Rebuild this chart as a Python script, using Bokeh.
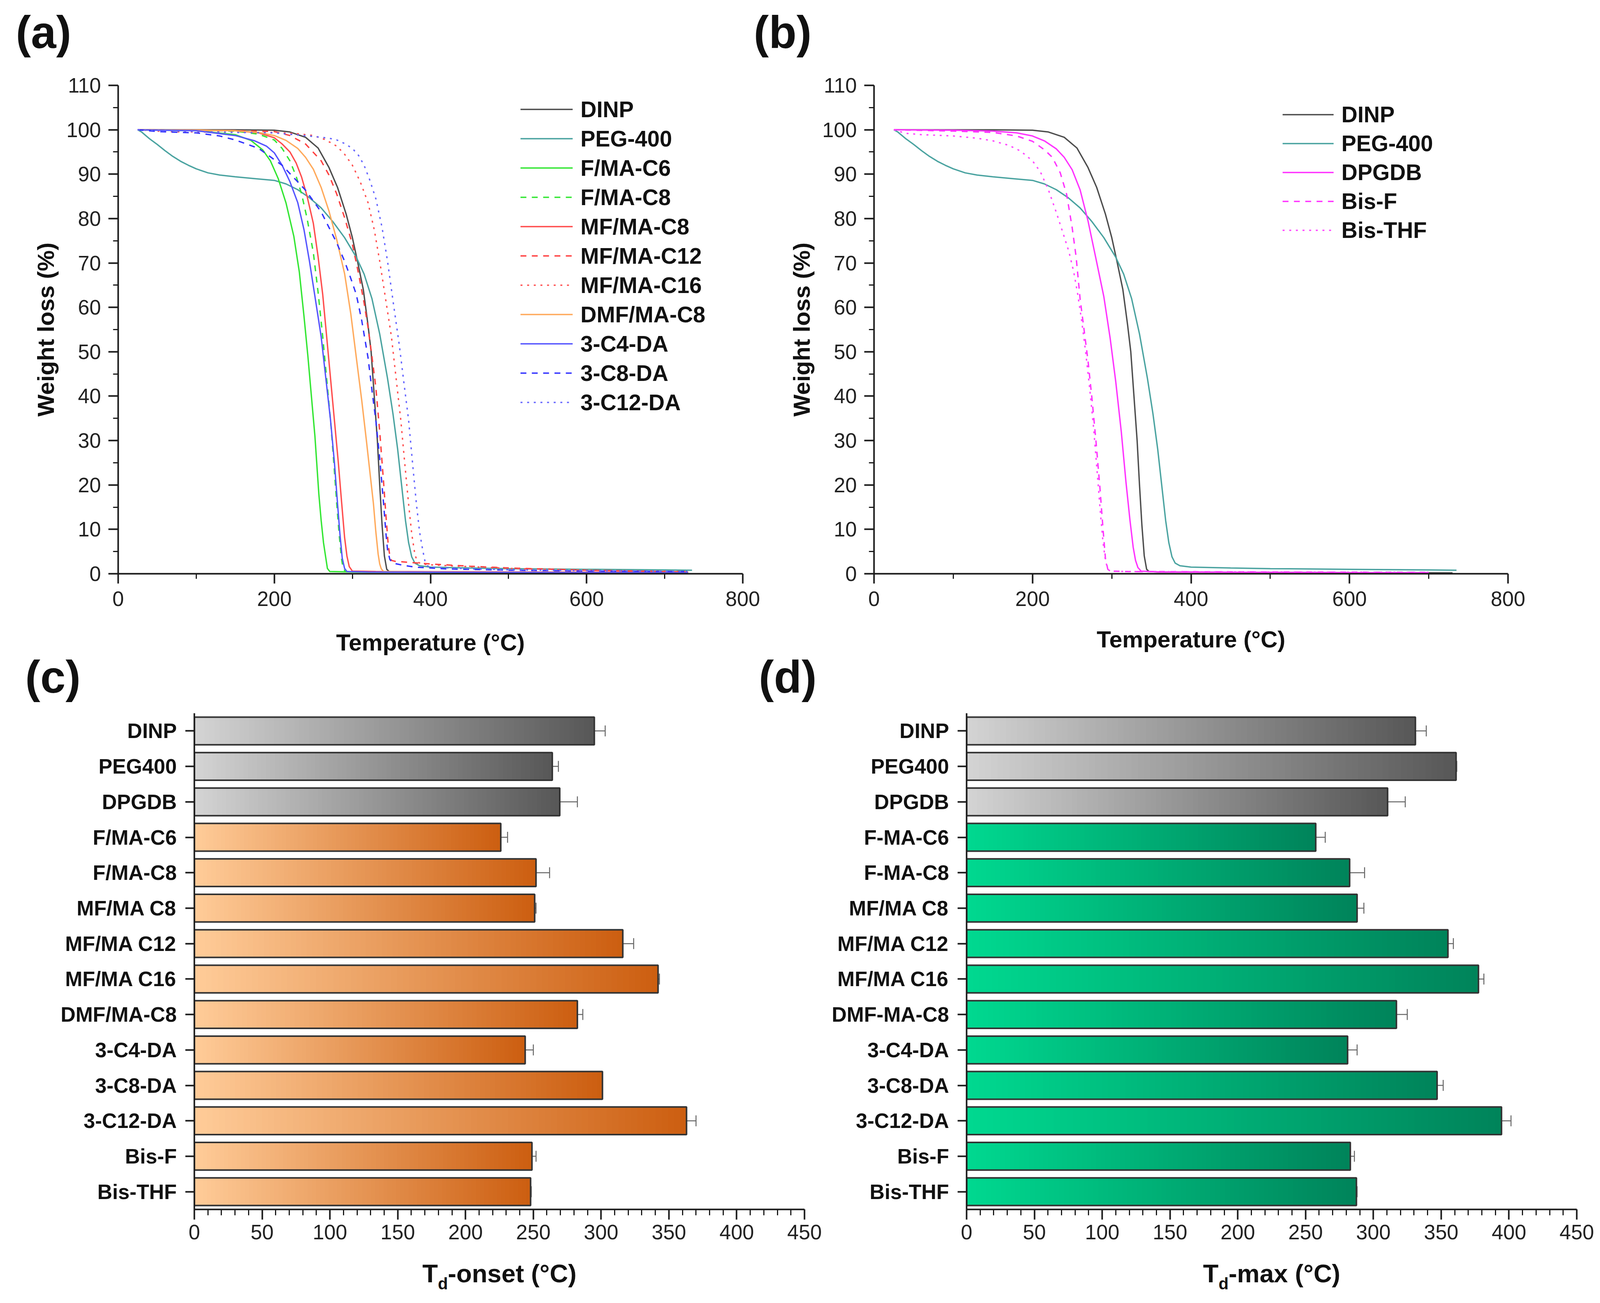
import numpy as np
from bokeh.plotting import figure
from bokeh.models import (Range1d, FactorRange, FixedTicker, Legend, LegendItem,
                          Label, Whisker, TeeHead, ColumnDataSource)
from bokeh.layouts import column, row
from bokeh.embed import file_html
from bokeh.resources import INLINE

FONT = "Liberation Sans"
W = 4086

# ---------------- TGA data (temperature in degC, weight %) ----------------
dinp_T = [25, 100, 150, 200, 220, 240, 256, 270, 281, 292, 300, 307, 314, 320, 324, 328, 332, 335, 338, 341, 344, 347, 360, 500, 730]
dinp_W = [100, 100, 100, 99.9, 99.5, 98.3, 95.9, 91.5, 87, 81, 75.7, 70, 64, 56, 50, 40, 30, 20, 11, 4, 1, 0.5, 0.4, 0.3, 0.2]

peg_T = [25, 30, 40, 50, 60, 70, 80, 90, 100, 115, 130, 150, 175, 200, 215, 230, 245, 260, 275, 290, 305, 315, 325, 335, 345, 352, 358, 363, 368, 372, 376, 380, 386, 400, 450, 500, 600, 700, 735]
peg_W = [100, 99.5, 98, 96.7, 95.3, 94, 92.9, 92, 91.2, 90.3, 89.8, 89.4, 89, 88.6, 87.8, 86.5, 84.7, 82.4, 79.3, 75.7, 71.3, 67.5, 62, 54, 44, 36, 28, 20, 12, 7, 3.8, 2.4, 1.8, 1.5, 1.3, 1.15, 1.0, 0.85, 0.8]

fmac6_T = [25, 100, 150, 170, 185, 195, 205, 215, 225, 232, 238, 243, 248, 252, 257, 260, 263, 266, 268, 271, 300, 500, 730]
fmac6_W = [100, 99.8, 98.9, 97.6, 95.5, 93, 89, 83.5, 76, 68, 58, 49, 39, 31, 18, 12, 7, 3.5, 1.2, 0.5, 0.4, 0.3, 0.2]

fmac8_T = [25, 100, 150, 180, 200, 210, 220, 228, 235, 242, 250, 256, 262, 267, 272, 276, 280, 283, 286, 288, 291, 320, 500, 730]
fmac8_W = [100, 99.9, 99.7, 99, 97.7, 95.8, 93, 89.5, 85.5, 80, 72.3, 63.5, 53.4, 44, 34.6, 25.5, 15.7, 9, 3.5, 1.3, 0.5, 0.4, 0.3, 0.2]

mfc8_T = [25, 100, 150, 180, 200, 210, 220, 228, 235, 242, 250, 256, 262, 267, 272, 277, 282, 286, 290, 293, 296, 300, 330, 500, 730]
mfc8_W = [100, 99.9, 99.8, 99.3, 98.2, 96.8, 95, 92.5, 89.3, 85, 78.9, 71.5, 62.9, 53.5, 44, 34.5, 25, 16.5, 8.2, 4, 1.6, 0.6, 0.5, 0.4, 0.3]

mfc12_T = [25, 100, 150, 200, 220, 240, 260, 270, 280, 290, 300, 308, 315, 320, 325, 330, 335, 340, 343, 346, 348, 350, 355, 370, 400, 450, 500, 600, 730]
mfc12_W = [100, 99.9, 99.8, 99.6, 98.7, 96.8, 93, 89.8, 85.5, 80.2, 74.2, 67.5, 61, 55.5, 49, 42, 32, 20.5, 13, 6.3, 4, 3, 2.8, 2.6, 2.2, 1.7, 1.3, 0.8, 0.4]

mfc16_T = [25, 60, 100, 200, 230, 250, 265, 280, 290, 300, 310, 320, 328, 335, 342, 350, 356, 362, 367, 372, 376, 380, 383, 388, 400, 450, 500, 600, 730]
mfc16_W = [100, 99.6, 99.5, 99.4, 99.1, 98.7, 97.8, 96.3, 94.5, 92, 88.3, 83.6, 77.5, 70.4, 62.5, 53.4, 44, 34.6, 25, 15.7, 9, 4.4, 2.8, 2.2, 2.0, 1.6, 1.2, 0.8, 0.5]

dmfc8_T = [25, 100, 150, 180, 200, 215, 230, 240, 250, 260, 270, 280, 290, 298, 305, 312, 318, 323, 327, 330, 333, 335, 337, 340, 370, 500, 730]
dmfc8_W = [100, 99.9, 99.8, 99.4, 98.7, 97.6, 95.8, 93.8, 91.1, 87, 81.7, 75.2, 67.6, 58.5, 48.7, 39, 29.9, 22, 15.7, 9.5, 4.4, 2.2, 1.1, 0.5, 0.4, 0.3, 0.2]

c4da_T = [25, 100, 150, 175, 190, 200, 210, 220, 230, 238, 245, 252, 260, 266, 272, 277, 281, 284, 287, 290, 293, 320, 500, 730]
c4da_W = [100, 99.8, 98.7, 97.5, 96.3, 94.8, 92, 88.3, 83.6, 77.5, 70.4, 62.5, 53.4, 44, 34.6, 25, 15.7, 9, 3.5, 1.2, 0.5, 0.4, 0.3, 0.2]

c8da_T = [25, 50, 100, 130, 150, 180, 210, 240, 260, 270, 280, 290, 298, 305, 312, 320, 326, 330, 335, 340, 343, 345, 348, 352, 365, 380, 420, 500, 600, 730]
c8da_W = [100, 99.6, 99.3, 98.6, 97.7, 95.8, 92, 86.4, 81.5, 78, 74.5, 70.4, 66.5, 62.9, 57, 48.7, 40, 34.6, 26, 15.7, 9, 5.4, 3.2, 2.4, 1.9, 1.5, 1.1, 0.8, 0.6, 0.5]

c12da_T = [25, 100, 150, 200, 250, 270, 280, 290, 300, 308, 315, 322, 330, 338, 345, 352, 360, 366, 372, 377, 382, 386, 390, 393, 396, 400, 450, 500, 600, 730]
c12da_W = [100, 99.6, 99.4, 99.3, 98.5, 98.1, 97.7, 96.9, 95.8, 94.2, 92, 88.8, 84.5, 78, 70.4, 61.5, 51.6, 43, 34.6, 25, 15.7, 9.5, 5.4, 2.8, 1.8, 1.5, 1.1, 0.9, 0.7, 0.5]

dpgdb_T = [25, 100, 150, 180, 200, 215, 230, 240, 250, 260, 270, 280, 290, 298, 305, 312, 318, 323, 327, 330, 333, 337, 360, 500, 700]
dpgdb_W = [100, 99.9, 99.7, 99.3, 98.6, 97.5, 95.7, 93.8, 91, 86.5, 79.5, 71, 62.4, 53, 43.3, 32, 20.5, 12, 6, 3, 1.4, 0.6, 0.4, 0.3, 0.2]

bisf_T = [25, 50, 100, 150, 180, 200, 215, 225, 235, 243, 250, 255, 260, 265, 270, 275, 280, 285, 289, 292, 295, 298, 320, 500, 700]
bisf_W = [100, 99.9, 99.7, 99.4, 98.6, 97.4, 95.5, 93.8, 90.3, 85.5, 78, 71.4, 62, 55, 48, 39.5, 30, 19.5, 10, 3.5, 1.0, 0.6, 0.5, 0.4, 0.3]

bisthf_T = [25, 40, 60, 100, 130, 150, 170, 185, 200, 210, 220, 230, 238, 246, 252, 257, 262, 267, 272, 277, 282, 286, 289, 292, 295, 298, 320, 500, 700]
bisthf_W = [100, 99.2, 98.9, 98.6, 98.1, 97.5, 96.5, 95.2, 93, 90.5, 86.5, 81.4, 77, 72.5, 68, 63, 57, 50, 42, 33, 22, 13, 7, 3, 1.0, 0.6, 0.5, 0.4, 0.3]

# ---------------- bar data ----------------
cats_c = ["DINP", "PEG400", "DPGDB", "F/MA-C6", "F/MA-C8", "MF/MA C8", "MF/MA C12",
          "MF/MA C16", "DMF/MA-C8", "3-C4-DA", "3-C8-DA", "3-C12-DA", "Bis-F", "Bis-THF"]
onset = [295, 264, 269.5, 226, 252, 251, 316, 342, 282.5, 244, 301, 363, 249, 248]
onset_err = [8, 4.5, 13, 5, 10, 1, 8, 1, 4, 6, 0, 7, 3, 0.5]

cats_d = ["DINP", "PEG400", "DPGDB", "F-MA-C6", "F-MA-C8", "MF/MA C8", "MF/MA C12",
          "MF/MA C16", "DMF-MA-C8", "3-C4-DA", "3-C8-DA", "3-C12-DA", "Bis-F", "Bis-THF"]
tmax = [331, 361, 310.5, 257.5, 282.5, 288, 355, 377.5, 317, 281, 347, 394.5, 283, 287.5]
tmax_err = [8, 0.5, 13, 7, 11, 5, 4, 4, 8, 7, 4.5, 7, 3, 0.5]

AX = "#1a1a1a"
TICK_FS = "53px"

# page layout (pixels): horizontal strips and panel boxes
Y_S1, Y_AB, Y_S2, Y_CD, Y_S3, Y_END = 0, 180, 1600, 1815, 3210, 3319
X_AB = 1980          # boundary between panels (a) and (b)
X_CD = 2115          # boundary between panels (c) and (d)

FRAME_A = (302, 1901, 217, 1482)     # left, right, top, bottom (page px)
FRAME_B = (2237, 3860, 218, 1468)
FRAME_C = (497, 2059, 1825, 3095)
FRAME_D = (2474, 4036, 1823, 3095)


def borders(frame, x0, x1, y0, y1):
    l, r, t, b = frame
    return dict(width=x1 - x0, height=y1 - y0,
                min_border_left=l - x0, min_border_right=x1 - r,
                min_border_top=t - y0, min_border_bottom=y1 - b)


def style_axes(p):
    p.xgrid.visible = False
    p.ygrid.visible = False
    p.outline_line_color = None
    for ax in (p.xaxis, p.yaxis):
        ax.axis_line_width = 4
        ax.axis_line_color = AX
        ax.major_tick_line_width = 4
        ax.major_tick_line_color = AX
        ax.minor_tick_line_width = 3
        ax.minor_tick_line_color = AX
        ax.major_tick_in = 0
        ax.minor_tick_in = 0
        ax.major_label_text_font = FONT
        ax.major_label_text_font_size = TICK_FS
        ax.major_label_text_color = "#222222"
        ax.axis_label_text_font = FONT
        ax.axis_label_text_font_size = "60px"
        ax.axis_label_text_font_style = "bold"
        ax.axis_label_text_color = "#111111"


def tga_panel(box, series, leg_loc, leg_gw, leg_gh, xstand):
    p = figure(output_backend="svg", toolbar_location=None,
               x_range=Range1d(0, 800), y_range=Range1d(0, 110), **box)
    style_axes(p)
    p.xaxis.ticker = FixedTicker(ticks=[0, 200, 400, 600, 800], minor_ticks=[100, 300, 500, 700])
    p.yaxis.ticker = FixedTicker(ticks=list(range(0, 111, 10)), minor_ticks=list(range(5, 110, 10)))
    p.xaxis.major_tick_out = 25
    p.xaxis.minor_tick_out = 13
    p.yaxis.major_tick_out = 25
    p.yaxis.minor_tick_out = 13
    p.xaxis.major_label_standoff = xstand
    p.yaxis.major_label_standoff = 19
    p.yaxis.axis_label = "Weight loss (%)"
    p.yaxis.axis_label_standoff = 16
    items = []
    for name, T, Wt, color, dash in series:
        r = p.line(T, Wt, line_color=color, line_width=3.5, line_dash=dash)
        items.append(LegendItem(label=name, renderers=[r]))
    leg = Legend(items=items, location=leg_loc, glyph_width=leg_gw, glyph_height=leg_gh,
                 label_height=leg_gh, spacing=0, padding=0, margin=0, label_standoff=20,
                 label_text_font=FONT, label_text_font_size="57px",
                 label_text_font_style="bold", label_text_color="#111111",
                 border_line_alpha=0, background_fill_alpha=0)
    p.add_layout(leg)
    return p


DASH = "15 14"
DOT = "5 12"
series_a = [
    ("DINP", dinp_T, dinp_W, "#4d4d4d", "solid"),
    ("PEG-400", peg_T, peg_W, "#4aa3a0", "solid"),
    ("F/MA-C6", fmac6_T, fmac6_W, "#33e633", "solid"),
    ("F/MA-C8", fmac8_T, fmac8_W, "#33e633", DASH),
    ("MF/MA-C8", mfc8_T, mfc8_W, "#ff4d4d", "solid"),
    ("MF/MA-C12", mfc12_T, mfc12_W, "#ff4040", DASH),
    ("MF/MA-C16", mfc16_T, mfc16_W, "#ff5050", DOT),
    ("DMF/MA-C8", dmfc8_T, dmfc8_W, "#ffaa5c", "solid"),
    ("3-C4-DA", c4da_T, c4da_W, "#5555ff", "solid"),
    ("3-C8-DA", c8da_T, c8da_W, "#3333ff", DASH),
    ("3-C12-DA", c12da_T, c12da_W, "#6666ff", DOT),
]
series_b = [
    ("DINP", dinp_T, dinp_W, "#4d4d4d", "solid"),
    ("PEG-400", peg_T, peg_W, "#4aa3a0", "solid"),
    ("DPGDB", dpgdb_T, dpgdb_W, "#ff33ff", "solid"),
    ("Bis-F", bisf_T, bisf_W, "#ff33ff", DASH),
    ("Bis-THF", bisthf_T, bisthf_W, "#ff44ff", DOT),
]

pa = tga_panel(borders(FRAME_A, 0, X_AB, Y_AB, Y_S2), series_a, (1030, 401), 134, 75, 20)
pb = tga_panel(borders(FRAME_B, X_AB, W, Y_AB, Y_S2), series_b, (1046, 842), 131, 74, 20)


def hexrgb(h):
    h = h.lstrip("#")
    return [int(h[i:i + 2], 16) for i in (0, 2, 4)]


def lerp(c1, c2, t):
    a, b = hexrgb(c1), hexrgb(c2)
    return "#%02x%02x%02x" % tuple(int(round(x + (y - x) * t)) for x, y in zip(a, b))


GRAY = ("#d4d4d4", "#575757")


def bar_panel(box, cats, vals, errs, grad):
    p = figure(output_backend="svg", toolbar_location=None,
               y_range=FactorRange(factors=cats[::-1]), x_range=Range1d(0, 450), **box)
    style_axes(p)
    p.xaxis.ticker = FixedTicker(ticks=list(range(0, 451, 50)), minor_ticks=list(range(0, 451, 10)))
    p.xaxis.major_tick_out = 26
    p.xaxis.minor_tick_out = 15
    p.xaxis.major_label_standoff = 13
    p.yaxis.major_tick_out = 23
    p.yaxis.major_label_standoff = 22
    p.yaxis.major_label_text_font_style = "bold"
    p.yaxis.major_label_text_color = "#111111"
    N = 80
    ys, ls, rs, cs = [], [], [], []
    for i, (c, v) in enumerate(zip(cats, vals)):
        c1, c2 = GRAY if i < 3 else grad
        for k in range(N):
            ys.append(c)
            ls.append(v * k / N)
            rs.append(min(v, v * (k + 1.4) / N))
            cs.append(lerp(c1, c2, (k + 0.5) / N))
    p.hbar(y=ys, left=ls, right=rs, height=0.78, fill_color=cs, line_color=None)
    p.hbar(y=cats, left=0, right=vals, height=0.78, fill_alpha=0,
           line_color="#333333", line_width=4)
    src = ColumnDataSource(dict(cat=cats, lo=[v - e for v, e in zip(vals, errs)],
                                hi=[v + e for v, e in zip(vals, errs)]))
    wcol = "#666666"
    p.add_layout(Whisker(source=src, base="cat", lower="lo", upper="hi", dimension="width",
                         line_color=wcol, line_width=2.5,
                         upper_head=TeeHead(size=28, line_color=wcol, line_width=2.5),
                         lower_head=TeeHead(size=28, line_color=wcol, line_width=2.5)))
    return p


pc = bar_panel(borders(FRAME_C, 0, X_CD, Y_CD, Y_S3), cats_c, onset, onset_err,
               ("#ffcc99", "#cc5e10"))
pd = bar_panel(borders(FRAME_D, X_CD, W, Y_CD, Y_S3), cats_d, tmax, tmax_err,
               ("#00d990", "#00835a"))


# ---------------- text strips (panel letters, axis titles) ----------------
def strip(y0, y1):
    s = figure(width=W, height=y1 - y0, output_backend="svg", toolbar_location=None,
               x_range=Range1d(0, W), y_range=Range1d(y1, y0),
               x_axis_location=None, y_axis_location=None, min_border=0)
    s.grid.visible = False
    s.outline_line_color = None
    return s


BSHIFT = 0.41   # measured offset of the renderer's alphabetic baseline, in em


def text(s, x, baseline, txt, size, align="left"):
    s.add_layout(Label(x=x, y=baseline - BSHIFT * size, text=txt,
                       text_font=FONT, text_font_style="bold", text_color="#111111",
                       text_font_size=f"{size}px", text_baseline="alphabetic",
                       text_align=align))


s1 = strip(Y_S1, Y_AB)
s2 = strip(Y_S2, Y_CD)
s3 = strip(Y_S3, Y_END)

LET = 116
text(s1, 40, 130, "(a)", LET)
text(s1, 1929, 130, "(b)", LET)
text(s2, 64, 1780, "(c)", LET)
text(s2, 1942, 1780, "(d)", LET)

text(s2, (FRAME_A[0] + FRAME_A[1]) / 2, 1669, "Temperature (°C)", 60, "center")
text(s2, (FRAME_B[0] + FRAME_B[1]) / 2, 1661, "Temperature (°C)", 60, "center")

FS, FSD = 65, 42


def td_title(frame, rest, rest_em):
    wT, wd, wr = 0.611 * FS, 0.611 * FSD, rest_em * FS
    x0 = (frame[0] + frame[1]) / 2 - (wT + wd + wr) / 2
    yb = 3286
    text(s3, x0, yb, "T", FS)
    text(s3, x0 + wT, yb + 16, "d", FSD)
    text(s3, x0 + wT + wd, yb, rest, FS)


td_title(FRAME_C, "-onset (°C)", 5.066)
td_title(FRAME_D, "-max (°C)", 4.4)

layout = column(s1, row(pa, pb), s2, row(pc, pd), s3)
open("out.html", "w").write(file_html(layout, INLINE))
